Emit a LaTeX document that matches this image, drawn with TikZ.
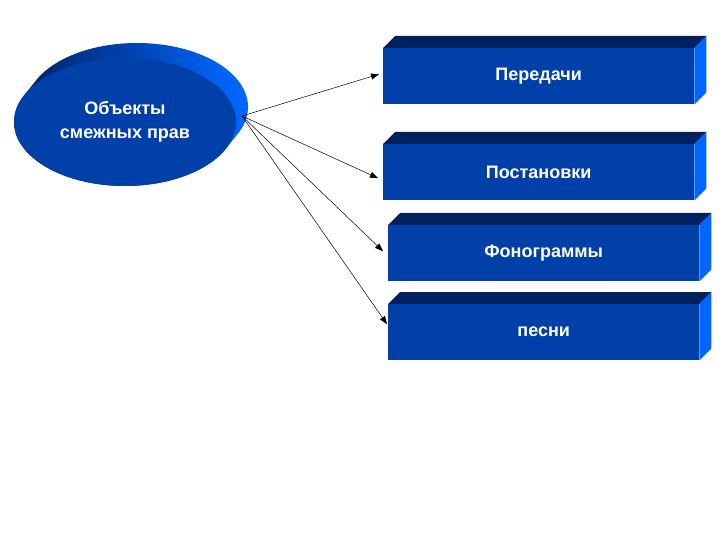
\documentclass[tikz,border=0pt]{standalone}
\usepackage{fontspec}
\setmainfont{Liberation Sans}
\usetikzlibrary{arrows.meta,shapes.geometric}
\definecolor{frontblue}{RGB}{0,64,168}
\definecolor{topnavy}{RGB}{0,32,96}
\definecolor{sideblue}{RGB}{0,102,255}
\tikzset{
  boxface/.style={rectangle,fill=frontblue,minimum width=311pt,minimum height=56pt,inner sep=0pt,
    text=white,font=\bfseries\fontsize{18}{21}\selectfont},
  topface/.style={fill=topnavy},
  sideface/.style={fill=sideblue},
  conn/.style={draw=black,line width=0.5pt,-{Triangle[length=8pt,width=6pt]}}
}
\begin{document}
\begin{tikzpicture}[x=1pt,y=-1pt]
\useasboundingbox (0,0) rectangle (720,540);
% extruded ellipse body
\shade[left color=topnavy,right color=sideblue,middle color=frontblue,shading angle=100]
  \foreach \i in {0,...,12} {({125+\i},{122-1.25*\i}) ellipse (111pt and 64pt)};
% front ellipse
\node[ellipse,fill=frontblue,minimum width=222pt,minimum height=128pt,inner sep=0pt,
  text=white,align=center,font=\bfseries\fontsize{18}{24}\selectfont] (obj) at (125,122)
  {Объекты\\смежных прав};
\coordinate (s) at (242,116);
% boxes
\foreach \n/\x/\y/\t in {b1/383/48/Передачи, b2/383/144/Постановки, b3/388/225/Фонограммы, b4/388/304/песни}{
  \node[boxface,anchor=north west] (\n) at (\x,\y) {\t};
  \fill[topface] (\n.north west) -- ++(12,-12) -- ([shift={(12,-12)}]\n.north east) -- (\n.north east) -- cycle;
  \fill[sideface] (\n.north east) -- ++(12,-12) -- ([shift={(12,-12)}]\n.south east) -- (\n.south east) -- cycle;
}
% connectors
\draw[conn] (s) -- ([shift={(-4,-2)}]b1.west);
\draw[conn] (s) -- ([shift={(-5,6)}]b2.west);
\draw[conn] (s) -- ([shift={(-5,-2)}]b3.west);
\draw[conn] (s) -- ([shift={(-1,-8)}]b4.west);
\end{tikzpicture}
\end{document}
